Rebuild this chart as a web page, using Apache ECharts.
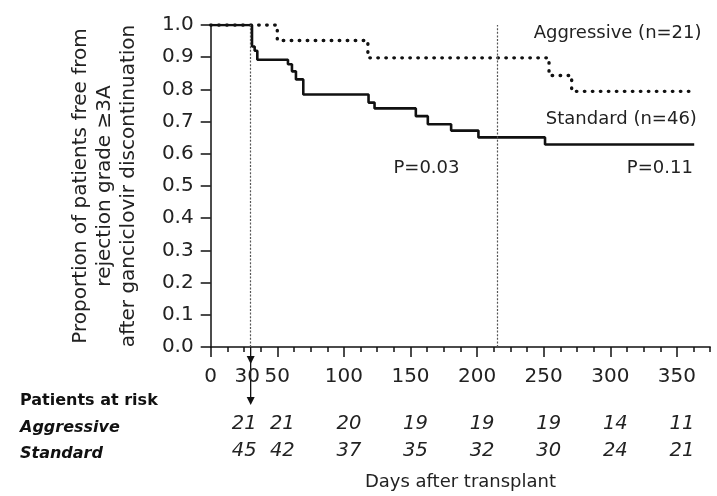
<!DOCTYPE html>
<html>
<head>
<meta charset="utf-8">
<script src="https://cdn.jsdelivr.net/npm/echarts@6/dist/echarts.min.js"></script>
<style>
html, body { margin: 0; padding: 0; background: #fff; }
#main { width: 717px; height: 496px; }
</style>
</head>
<body>
<div id="main"></div>
<script>
// Kaplan-Meier steps
var aggressiveDays = [0, 50, 118, 254, 271, 362];
var aggressiveSurv = [1.0, 0.952, 0.898, 0.843, 0.794, 0.794];
var standardDays = [0, 31, 33, 35, 58, 61, 64, 69.5, 118.5, 123, 154, 163, 180.5, 201, 251, 363];
var standardSurv = [1.0, 0.933, 0.92, 0.892, 0.878, 0.856, 0.831, 0.784, 0.759, 0.741, 0.717, 0.692, 0.672, 0.651, 0.629, 0.629];

// patients at risk
var riskDays = [30, 50, 100, 150, 200, 250, 300, 350];
var riskAggressive = [21, 21, 20, 19, 19, 19, 14, 11];
var riskStandard = [45, 42, 37, 35, 32, 30, 24, 21];

var xTickLabels = [0, 30, 50, 100, 150, 200, 250, 300, 350];
var xMajorTicks = [0, 50, 100, 150, 200, 250, 300, 350];
var cutoffDays = [30, 215];

var FONT = 'DejaVu Sans';
var TXT = '#222';

var docChart = document.getElementById('main');
var myChart = echarts.init(docChart);

function toPairs(xs, ys) {
    var out = [];
    for (var i = 0; i < xs.length; i++) out.push([xs[i], ys[i]]);
    return out;
}

function riskAxis(offset, counts) {
    var base = { fontFamily: FONT, fontSize: 19.5, fontStyle: 'italic', color: TXT };
    return {
        type: 'value', gridIndex: 0, position: 'bottom', offset: offset,
        min: 0, max: 375, interval: 50,
        axisLine: { show: false }, axisTick: { show: false }, splitLine: { show: false },
        axisLabel: Object.assign({
            customValues: riskDays, margin: 0, verticalAlign: 'middle',
            // the column under day 30 sits a bit left, the others a bit right
            formatter: function (v) {
                var c = counts[riskDays.indexOf(v)];
                return v === 30 ? '{l|' + c + '}' : '{r|' + c + '}';
            },
            rich: {
                l: Object.assign({ padding: [0, 13, 0, 0] }, base),
                r: Object.assign({ padding: [0, 0, 0, 10] }, base)
            }
        }, base)
    };
}

var tickFont = { fontFamily: FONT, fontSize: 20, color: TXT };

var option = {
    animation: false,
    backgroundColor: '#fff',
    grid: { left: 210.7, right: 6.8, top: 25, bottom: 146, containLabel: false },
    xAxis: [
        {
            type: 'value', min: 0, max: 375, interval: 50,
            name: 'Days after transplant', nameLocation: 'middle', nameGap: 135,
            nameMoveOverlap: false,
            nameTextStyle: { fontFamily: FONT, fontSize: 18, color: TXT, verticalAlign: 'middle' },
            axisLine: { lineStyle: { color: '#111', width: 1.5 } },
            axisTick: { customValues: xMajorTicks, length: 10, lineStyle: { color: '#111', width: 1.5 } },
            splitLine: { show: false },
            axisLabel: Object.assign({
                customValues: xTickLabels, margin: 30, verticalAlign: 'middle',
                formatter: function (v) { return v === 30 ? '{l|30}' : String(v); },
                rich: { l: Object.assign({ padding: [0, 7, 0, 0] }, tickFont) }
            }, tickFont)
        },
        {
            // minor ticks every 12.5 days
            type: 'value', gridIndex: 0, position: 'bottom',
            min: 0, max: 375, interval: 12.5,
            axisLine: { show: false },
            axisTick: { length: 5, lineStyle: { color: '#111', width: 1.5 } },
            axisLabel: { show: false }, splitLine: { show: false }
        },
        riskAxis(76.5, riskAggressive),
        riskAxis(103.5, riskStandard)
    ],
    yAxis: {
        type: 'value', min: 0, max: 1, interval: 0.1,
        name: 'Proportion of patients free from\nrejection grade \u22653A\nafter ganciclovir discontinuation',
        nameLocation: 'middle', nameRotate: 90, nameGap: 106, nameMoveOverlap: false,
        nameTextStyle: { fontFamily: FONT, fontSize: 20, lineHeight: 24, color: TXT, align: 'center', verticalAlign: 'middle' },
        axisLine: { show: true, lineStyle: { color: '#111', width: 1.5 } },
        axisTick: { show: true, length: 10, lineStyle: { color: '#111', width: 1.5 } },
        splitLine: { show: false },
        axisLabel: Object.assign({
            margin: 17,
            formatter: function (v) { return v.toFixed(1); }
        }, tickFont)
    },
    series: [
        {
            name: 'Standard', type: 'line', step: 'end', showSymbol: false, silent: true,
            data: toPairs(standardDays, standardSurv),
            lineStyle: { color: '#111', width: 2.6 },
            markLine: {
                silent: true, symbol: 'none', label: { show: false },
                lineStyle: { color: '#555', width: 1.2, type: [2, 1.6] },
                data: cutoffDays.map(function (d) { return { xAxis: d }; })
            }
        },
        {
            name: 'Aggressive', type: 'line', step: 'end', showSymbol: false, silent: true,
            data: toPairs(aggressiveDays, aggressiveSurv),
            lineStyle: { color: '#111', width: 3.4, type: [0.5, 7.5], cap: 'round' }
        }
    ]
};
myChart.setOption(option);

// annotations placed from data coordinates
function px(x, y) { return myChart.convertToPixel({ gridIndex: 0 }, [x, y]); }
function label(text, x, y, align) {
    var p = px(x, y);
    return {
        type: 'text', x: p[0], y: p[1], silent: true,
        style: { text: text, align: align, verticalAlign: 'middle', fontFamily: FONT, fontSize: 18, fill: TXT }
    };
}
var b = px(30, 0);
var graphics = [
    label('Aggressive (n=21)', 368.5, 0.975, 'right'),
    label('Standard (n=46)', 365, 0.708, 'right'),
    label('P=0.03', 162, 0.554, 'center'),
    label('P=0.11', 362, 0.554, 'right'),
    { type: 'polyline', silent: true, shape: { points: [[b[0], b[1]], [b[0], b[1] + 52]] }, style: { stroke: '#111', lineWidth: 1.3 } },
    { type: 'polygon', silent: true, shape: { points: [[b[0] - 4, b[1] + 9], [b[0] + 4, b[1] + 9], [b[0], b[1] + 17]] }, style: { fill: '#111' } },
    { type: 'polygon', silent: true, shape: { points: [[b[0] - 4, b[1] + 50], [b[0] + 4, b[1] + 50], [b[0], b[1] + 58]] }, style: { fill: '#111' } },
    { type: 'text', x: 20, y: 401, silent: true, style: { text: 'Patients at risk', verticalAlign: 'middle', fontFamily: FONT, fontSize: 16, fontWeight: 'bold', fill: '#111' } },
    { type: 'text', x: 20, y: 427.5, silent: true, style: { text: 'Aggressive', verticalAlign: 'middle', fontFamily: FONT, fontSize: 16, fontWeight: 'bold', fontStyle: 'italic', fill: '#111' } },
    { type: 'text', x: 20, y: 454, silent: true, style: { text: 'Standard', verticalAlign: 'middle', fontFamily: FONT, fontSize: 16, fontWeight: 'bold', fontStyle: 'italic', fill: '#111' } }
];
myChart.setOption({ graphic: graphics });
</script>
</body>
</html>
